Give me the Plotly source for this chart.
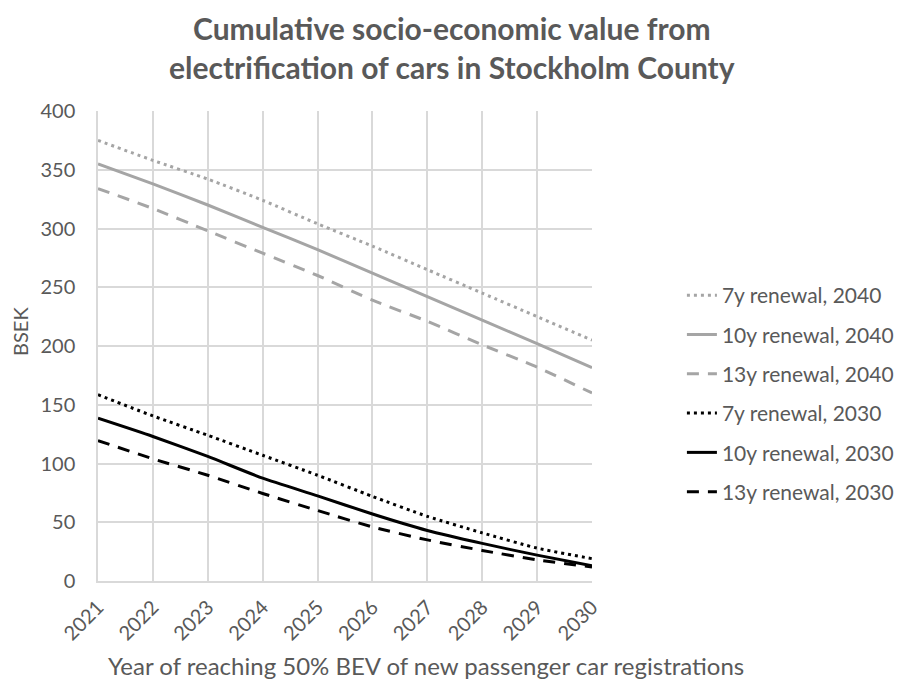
import plotly.graph_objects as go

years = [2021, 2022, 2023, 2024, 2025, 2026, 2027, 2028, 2029, 2030]

r7_2040 = [375, 358, 342, 324, 304, 285, 265, 245, 225, 205]
r10_2040 = [355, 338, 320, 301, 282, 262, 242, 222, 202, 181.5]
r13_2040 = [334, 317, 298, 279, 260, 239, 221, 201, 182, 160]
r7_2030 = [158.5, 140.5, 124, 107, 90, 72, 55, 41, 28, 19]
r10_2030 = [138.5, 123, 106, 87.5, 72.5, 57, 43, 32, 22, 13]
r13_2030 = [119.5, 104, 90, 74.5, 60, 46, 35, 26, 18, 12]

series_names = ["7y renewal, 2040", "10y renewal, 2040", "13y renewal, 2040",
                "7y renewal, 2030", "10y renewal, 2030", "13y renewal, 2030"]
series_values = [r7_2040, r10_2040, r13_2040, r7_2030, r10_2030, r13_2030]

title_lines = ["Cumulative socio-economic value from",
               "electrification of cars in Stockholm County"]
x_title = "Year of reaching 50% BEV of new passenger car registrations"
y_title = "BSEK"

GRAY = "#A5A5A5"
BLACK = "#000000"
styles = [
    (GRAY, "3px,4px"),
    (GRAY, "solid"),
    (GRAY, "12px,9px"),
    (BLACK, "3px,4px"),
    (BLACK, "solid"),
    (BLACK, "12px,9px"),
]

fig = go.Figure()
for i, (name, vals) in enumerate(zip(series_names, series_values)):
    color, dash = styles[i]
    fig.add_trace(go.Scatter(
        x=years, y=vals, name=name, mode="lines",
        line=dict(color=color, width=3, dash=dash, shape="spline", smoothing=0.6),
        legendgroup=str(i),
    ))

TXT = "#595959"
fig.update_layout(
    width=899, height=677,
    margin=dict(l=90, r=315, t=103, b=104, autoexpand=False),
    paper_bgcolor="white", plot_bgcolor="white",
    font=dict(family="Lato", size=20, color=TXT),
    showlegend=True,
    legend=dict(
        x=1.182, xanchor="left", y=0.651, yanchor="top",
        font=dict(family="Lato", size=21, color=TXT),
        tracegroupgap=9, bgcolor="rgba(0,0,0,0)",
    ),
    xaxis=dict(
        range=[2021, 2030], tickmode="array", tickvals=years,
        ticktext=[str(y) for y in years], tickangle=-45,
        showgrid=True, gridcolor="#D9D9D9", gridwidth=1.5,
        showline=True, linecolor="#D9D9D9", linewidth=1.5,
        zeroline=False, ticks="", tickfont=dict(size=20, color=TXT),
        ticklabelstandoff=5,
    ),
    yaxis=dict(
        range=[0, 400], tickmode="linear", tick0=0, dtick=50,
        showgrid=True, gridcolor="#D9D9D9", gridwidth=1.5,
        showline=True, linecolor="#D9D9D9", linewidth=1.5,
        zeroline=False, ticks="", tickfont=dict(size=20, color=TXT),
        ticklabelstandoff=17,
    ),
    annotations=[
        dict(text="<b>" + "<br>".join(title_lines) + "</b>", xref="paper", yref="paper",
             x=0.717, y=1.135, xanchor="center", yanchor="middle", showarrow=False,
             font=dict(family="Lato", size=30, color=TXT)),
        dict(text=x_title, xref="paper", yref="paper", x=0.664, y=-0.179,
             xanchor="center", yanchor="middle", showarrow=False,
             font=dict(family="Lato", size=24, color=TXT)),
        dict(text=y_title, xref="paper", yref="paper", x=-0.158, y=0.532,
             xanchor="center", yanchor="middle", showarrow=False, textangle=-90,
             font=dict(family="Lato", size=20, color=TXT)),
    ],
)

fig.write_html("out.html")
